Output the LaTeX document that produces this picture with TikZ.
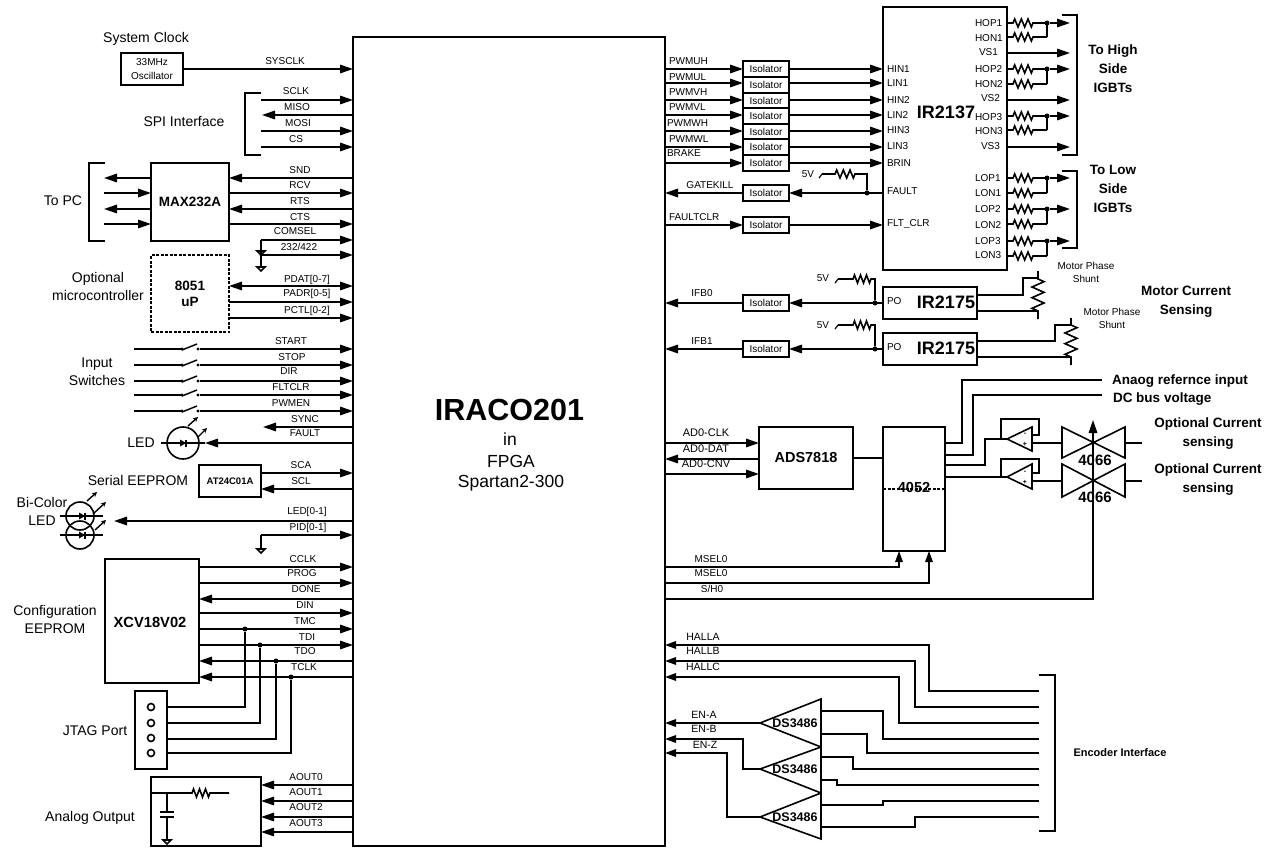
\documentclass[tikz,border=0pt]{standalone}
\usepackage{fontspec}
\setmainfont{Liberation Sans}
\usetikzlibrary{arrows.meta,calc}
\newcommand\fs[1]{\fontsize{#1}{#1}\selectfont}
\tikzset{
 x=1pt,y=-1pt,
 wire/.style={line width=1.6pt,line cap=butt,line join=miter},
 arr/.style={-{Triangle[length=13pt,width=8.5pt]}},
 arrs/.style={-{Triangle[length=11pt,width=7.5pt]}},
 barr/.style={{Triangle[length=13pt,width=8.5pt]}-{Triangle[length=13pt,width=8.5pt]}},
 blk/.style={draw,line width=1.6pt,inner sep=0pt,outer sep=0pt,align=center},
 lbl/.style={inner sep=0pt,outer sep=0pt,text height=7.2pt,text depth=0pt,font=\fs{10}},
 lbw/.style={lbl,anchor=west},
 txt/.style={inner sep=0pt,outer sep=0pt,align=center,font=\fs{14},text height=10pt,text depth=0pt},
 btxt/.style={inner sep=0pt,outer sep=0pt,align=center,font=\bfseries\fs{13.5},text height=9.7pt,text depth=0pt},
 dot/.style={fill=black,circle,inner sep=0pt,minimum size=5pt},
 sdot/.style={fill=black,circle,inner sep=0pt,minimum size=3.2pt},
 small/.style={-{Stealth[length=5pt,width=5pt]},line width=1.4pt},
}
% box by corners
\newcommand\bx[7][]{\node[blk,minimum width={(#5-#3)*1pt},minimum height={(#6-#4)*1pt},#1] (#2) at ({(#3+#5)/2},{(#4+#6)/2}) {#7};}
% horizontal wire at height #4 between x of #2 and x of #3
\newcommand\hw[4]{\draw[wire,#1] (#2 |- 0,#4) -- (#3 |- 0,#4);}
\newcommand\lab[3]{\node[lbl] (l-#1-#2) at (#1,#2) {#3};}
\newcommand\labw[3]{\node[lbw] (l-#1-#2) at (#1,#2) {#3};}
\newcommand\zigh[1]{-- ++({(#1)/12},-4) -- ++({(#1)/6},8) -- ++({(#1)/6},-8) -- ++({(#1)/6},8) -- ++({(#1)/6},-8) -- ++({(#1)/6},8) -- ++({(#1)/12},-4)}
\newcommand\zigv[2]{-- ++(#2,{(#1)/12}) -- ++(-2*#2,{(#1)/6}) -- ++(2*#2,{(#1)/6}) -- ++(-2*#2,{(#1)/6}) -- ++(2*#2,{(#1)/6}) -- ++(-2*#2,{(#1)/6}) -- ++(#2,{(#1)/12})}
% wire with resistor: start anchor, x1, width, end anchor, y
\newcommand\rw[5]{\draw[wire] (#1 |- 0,#5) -- (#2,#5) \zigh{#3} -- (#4 |- 0,#5);}
\newcommand\gnd[2]{\draw[wire] ({#1-4},#2) -- ({#1+4},#2) -- (#1,{#2+4}) -- cycle;}
% switch: y
\newcommand\swt[1]{%
 \hw{}{swL}{swA}{#1}
 \draw[line width=1.4pt] (swA |- 0,#1) ++(0,1) -- ++(15,-6);
 \node[sdot] (sa#1) at (swA |- 0,#1) {};
 \node[sdot] (sb#1) at (swB |- 0,#1) {};
 \draw[wire,arr] (sb#1) -- (fpga.west |- sb#1);}
\newcommand\diode[2]{\fill ({#1-3},{#2-3.5}) -- ({#1-3},{#2+3.5}) -- ({#1+3},#2) -- cycle; \draw[line width=1.2pt] ({#1+3},{#2-3.5}) -- ({#1+3},{#2+3.5});}
% gate driver pair
\newcommand\drv[2]{%
 \rw{ir.east}{1013}{20}{jh}{#1}
 \rw{ir.east}{1013}{20}{jh}{#2}
 \draw[wire] (jh |- 0,#2) -- (jh |- 0,#1);
 \node[dot] (d#1) at (jh |- 0,#1) {};
 \draw[wire,arr] (d#1) -- (igbt |- d#1);}
\newcommand\iso[3]{\bx{#1}{743}{#2}{789}{#3}{\fs{10}Isolator}}
\begin{document}
\begin{tikzpicture}
\useasboundingbox (0,0) rectangle (1277,848);
\fill[white] (0,0) rectangle (1277,848);
% FPGA
\bx{fpga}{353}{37}{665}{846}{}
\node[inner sep=0pt,font=\bfseries\fs{30.5}] (tname) at (509.5,410) {IRACO201};
\node[txt,font=\fs{17.5},text height=12.5pt] (t1) at (510,439) {in};
\node[txt,font=\fs{17.5},text height=12.5pt] (t2) at (511,461) {FPGA};
\node[txt,font=\fs{17.5},text height=12.5pt] (t3) at (511,481) {Spartan2-300};
% rails
\coordinate (spiL) at (261,0);
\coordinate (spiT) at (262,0);
\coordinate (pcL) at (104,0);
\coordinate (swL) at (134,0);
\coordinate (swA) at (182,0);
\coordinate (swB) at (198,0);
\coordinate (syncT) at (263,0);
\coordinate (ledT) at (205,0);
\coordinate (bicT) at (114,0);
% clock
\node[txt] (tclk) at (146,38) {System Clock};
\bx{osc}{121}{53}{183}{85}{\fs{10}33MHz\\[2pt]\fs{10}Oscillator}
\hw{arr}{osc.east}{fpga.west}{69}
\lab{285}{61}{SYSCLK}
% SPI
\node[txt] (tspi) at (184,122) {SPI Interface};
\draw[wire] (261,93) -- (245,93) -- (245,155) -- (261,155);
\hw{arr}{spiL}{fpga.west}{100}
\hw{arr}{fpga.west}{spiT}{115}
\hw{arr}{spiL}{fpga.west}{131}
\hw{arr}{spiL}{fpga.west}{147}
\lab{296}{91}{SCLK}\lab{297}{107}{MISO}\lab{298}{123}{MOSI}\lab{296}{139}{CS}
% MAX232
\node[txt] (tpc) at (63,200) {To PC};
\bx{max}{151}{163}{229}{241}{\bfseries\fs{13.5}MAX232A}
\draw[wire] (105,163) -- (89,163) -- (89,241) -- (105,241);
\hw{arr}{max.west}{pcL}{178}
\hw{arr}{pcL}{max.west}{193}
\hw{arr}{max.west}{pcL}{209}
\hw{arr}{pcL}{max.west}{224}
\hw{arr}{fpga.west}{max.east}{178}
\hw{arr}{max.east}{fpga.west}{193}
\hw{arr}{fpga.west}{max.east}{209}
\hw{arr}{max.east}{fpga.west}{224}
\lab{300}{170}{SND}\lab{300}{185}{RCV}\lab{300}{201}{RTS}\lab{300}{217}{CTS}
\hw{arr}{spiL}{fpga.west}{240}
\hw{arr}{spiL}{fpga.west}{255}
\draw[wire] (spiL |- 0,240) -- (spiL |- 0,267);
\node[sdot] (gd1) at (spiL |- 0,255) {};
\gnd{261}{251}\gnd{261}{267}
\lab{295}{231}{COMSEL}\lab{299}{247}{232/422}
% 8051
\node[txt] (topt) at (98,295) {Optional\\[4pt]microcontroller};
\bx[dash pattern=on 3pt off 1.5pt]{mcu}{151}{255}{229}{332}{\bfseries\fs{13.5}8051\\[4pt]\bfseries\fs{13.5}uP}
\hw{barr}{mcu.east}{fpga.west}{286}
\hw{arr}{mcu.east}{fpga.west}{302}
\hw{arr}{mcu.east}{fpga.west}{318}
\lab{307}{279}{PDAT[0-7]}\lab{307}{293}{PADR[0-5]}\lab{307}{310}{PCTL[0-2]}
% switches
\node[txt] (tsw) at (97,380) {Input\\[4pt]Switches};
\swt{349}\swt{365}\swt{381}\swt{395}\swt{411}
\lab{291}{341}{START}\lab{292}{357}{STOP}\lab{289}{371}{DIR}\lab{291}{387}{FLTCLR}\lab{291}{403}{PWMEN}
\hw{arr}{fpga.west}{syncT}{427}
\lab{305}{419}{SYNC}
% LED
\node[txt] (tled) at (141,442) {LED};
\node[draw,circle,line width=1.6pt,minimum size=32pt,inner sep=0pt,outer sep=0pt] (led) at (183,443) {};
\hw{arr}{fpga.west}{ledT}{443}
\draw[wire] (161,443) -- (ledT |- 0,443);
\diode{183}{443}
\draw[small] (188,426) -- (198,417);
\draw[small] (198,437) -- (207,428);
\lab{305}{433}{FAULT}
% AT24
\node[txt] (teep) at (138,480) {Serial EEPROM};
\bx{at}{199}{465}{261}{497}{\bfseries\fs{9.5}AT24C01A}
\hw{arr}{at.east}{fpga.west}{473}
\hw{arr}{fpga.west}{at.east}{489}
\lab{301}{465}{SCA}\lab{301}{481}{SCL}
% bicolor
\node[txt] (tbic) at (42,520) {Bi-Color\\[4pt]LED};
\node[draw,circle,line width=1.6pt,minimum size=28pt,inner sep=0pt,outer sep=0pt] (b1) at (80,516) {};
\node[draw,circle,line width=1.6pt,minimum size=28pt,inner sep=0pt,outer sep=0pt] (b2) at (80,535) {};
\draw[wire] (60,516) -- (103,516);
\draw[wire] (60,535) -- (103,535);
\diode{82}{516}\diode{82}{535}
\draw[small] (87,501) -- (97,492);
\draw[small] (93,514) -- (106,502);
\draw[small] (95,530) -- (106,520);
\hw{arr}{fpga.west}{bicT}{521}
\lab{307}{511}{LED[0-1]}
\hw{arr}{spiL}{fpga.west}{535}
\draw[wire] (spiL |- 0,535) -- (spiL |- 0,549);
\gnd{261}{549}
\lab{308}{527}{PID[0-1]}
% XCV
\node[txt] (tcfg) at (55,628) {Configuration\\[4pt]EEPROM};
\bx{xcv}{105}{559}{199}{683}{}
\node[inner sep=0pt,font=\bfseries\fs{14.7}] (txcv) at (150,622) {XCV18V02};
\hw{arr}{xcv.east}{fpga.west}{567}
\hw{arr}{xcv.east}{fpga.west}{583}
\hw{arr}{fpga.west}{xcv.east}{599}
\hw{arr}{xcv.east}{fpga.west}{613}
\hw{arr}{xcv.east}{fpga.west}{629}
\hw{arr}{xcv.east}{fpga.west}{645}
\hw{arr}{fpga.west}{xcv.east}{661}
\hw{arr}{fpga.west}{xcv.east}{677}
\lab{303}{559}{CCLK}\lab{302}{573}{PROG}\lab{306}{589}{DONE}\lab{305}{605}{DIN}\lab{305}{621}{TMC}\lab{307}{637}{TDI}\lab{305}{651}{TDO}\lab{304}{667}{TCLK}
% JTAG
\node[txt] (tjt) at (95,730) {JTAG Port};
\bx{jtag}{135}{691}{167}{769}{}
\foreach \yy in {707,723,738,753}{\node[draw,circle,line width=1.6pt,minimum size=7pt,inner sep=0pt] (p\yy) at (151,\yy) {};}
\node[dot] (j1) at (245,629) {};
\node[dot] (j2) at (260,645) {};
\node[dot] (j3) at (276,661) {};
\node[dot] (j4) at (291,677) {};
\draw[wire] (jtag.east |- 0,707) -| (j1);
\draw[wire] (jtag.east |- 0,723) -| (j2);
\draw[wire] (jtag.east |- 0,739) -| (j3);
\draw[wire] (jtag.east |- 0,753) -| (j4);
% analog
\node[txt] (tana) at (90,816) {Analog Output};
\bx{ana}{151}{777}{261}{846}{}
\hw{arr}{fpga.west}{ana.east}{785}
\hw{arr}{fpga.west}{ana.east}{801}
\hw{arr}{fpga.west}{ana.east}{817}
\hw{arr}{fpga.west}{ana.east}{832}
\lab{306}{777}{AOUT0}\lab{306}{792}{AOUT1}\lab{306}{807}{AOUT2}\lab{306}{823}{AOUT3}
\draw[wire] (ana.west |- 0,793) -- (192,793) \zigh{18} -- (229,793);
\draw[wire] (167,793) -- (167,812);
\draw[wire] (160,812) -- (174,812);
\draw[wire] (160,817) -- (174,817);
\draw[wire] (167,817) -- (167,840);
\gnd{167}{840}
% ---------- right side ----------
\bx{ir}{883}{7}{1007}{270}{}
\node[inner sep=0pt,font=\bfseries\fs{18}] (tir) at (946,112) {IR2137};
\iso{pa}{61}{77}\iso{pb}{77}{93}\iso{pc}{93}{108}\iso{pd}{108}{124}\iso{pe}{124}{139}\iso{pf}{139}{155}\iso{pg}{155}{171}
\hw{arr}{fpga.east}{pa.west}{69}\hw{arr}{pa.east}{ir.west}{69}
\hw{arr}{fpga.east}{pb.west}{83}\hw{arr}{pb.east}{ir.west}{83}
\hw{arr}{fpga.east}{pc.west}{100}\hw{arr}{pc.east}{ir.west}{100}
\hw{arr}{fpga.east}{pd.west}{115}\hw{arr}{pd.east}{ir.west}{115}
\hw{arr}{fpga.east}{pe.west}{131}\hw{arr}{pe.east}{ir.west}{131}
\hw{arr}{fpga.east}{pf.west}{147}\hw{arr}{pf.east}{ir.west}{147}
\hw{arr}{fpga.east}{pg.west}{163}\hw{arr}{pg.east}{ir.west}{163}
\labw{669}{61}{PWMUH}\labw{669}{77}{PWMUL}\labw{669}{92}{PWMVH}\labw{669}{107}{PWMVL}\labw{667}{123}{PWMWH}\labw{669}{139}{PWMWL}\labw{667}{153}{BRAKE}
\labw{887}{69}{HIN1}\labw{887}{83}{LIN1}\labw{887}{100}{HIN2}\labw{887}{115}{LIN2}\labw{887}{130}{HIN3}\labw{887}{146}{LIN3}\labw{887}{163}{BRIN}\labw{887}{191}{FAULT}\labw{887}{223}{FLT\_CLR}
% gatekill
\iso{gk}{185}{201}
\hw{arr}{ir.west}{gk.east}{193}
\hw{arr}{gk.west}{fpga.east}{193}
\lab{710}{185}{GATEKILL}
\node[lbl] (v5a) at (808,174) {5V};
\node[dot] (dgk) at (867,193) {};
\draw[line width=1.2pt] (819,178) -- (822,174);
\draw[wire] (822,174) -- (835,174) \zigh{20} -- (867,174) -- (dgk);
\iso{fc}{217}{233}
\hw{arr}{fpga.east}{fc.west}{225}
\hw{arr}{fc.east}{ir.west}{225}
\labw{669}{217}{FAULTCLR}
% IR2137 outputs
\coordinate (jh) at (1047,0);
\coordinate (igbt) at (1070,0);
\drv{23}{37}\drv{69}{84}\drv{116}{130}\drv{178}{193}\drv{209}{224}\drv{241}{256}
\hw{arr}{ir.east}{igbt}{53}
\hw{arr}{ir.east}{igbt}{100}
\hw{arr}{ir.east}{igbt}{147}
\draw[wire] (1062,15) -- (1077,15) -- (1077,155) -- (1062,155);
\draw[wire] (1062,171) -- (1077,171) -- (1077,248) -- (1062,248);
\labw{975}{23}{HOP1}\labw{975}{38}{HON1}\labw{979}{52}{VS1}\labw{975}{69}{HOP2}\labw{975}{84}{HON2}\labw{981}{98}{VS2}\labw{975}{117}{HOP3}\labw{975}{131}{HON3}\labw{981}{146}{VS3}
\labw{975}{178}{LOP1}\labw{975}{193}{LON1}\labw{975}{209}{LOP2}\labw{975}{225}{LON2}\labw{975}{241}{LOP3}\labw{975}{255}{LON3}
\node[btxt] (thi) at (1113,88) {To High\\[5.5pt]Side\\[5.5pt]IGBTs};
\node[btxt] (tlo) at (1113,208) {To Low\\[5.5pt]Side\\[5.5pt]IGBTs};
% IR2175
\bx{ira}{883}{287}{977}{319}{}
\bx{irb}{883}{333}{977}{365}{}
\node[inner sep=0pt,font=\bfseries\fs{18}] (tia) at (946,302) {IR2175};
\node[inner sep=0pt,font=\bfseries\fs{18}] (tib) at (946,348) {IR2175};
\labw{887}{301}{PO}\labw{887}{347}{PO}
\iso{ia}{295}{311}
\iso{ib}{341}{357}
\hw{arr}{ira.west}{ia.east}{303}
\hw{arr}{ia.west}{fpga.east}{303}
\hw{arr}{irb.west}{ib.east}{349}
\hw{arr}{ib.west}{fpga.east}{349}
\lab{702}{293}{IFB0}\lab{702}{341}{IFB1}
\node[lbl] (v5b) at (823,278) {5V};
\node[lbl] (v5c) at (823,325) {5V};
\node[dot] (dia) at (875,303) {};
\node[dot] (dib) at (875,349) {};
\draw[line width=1.2pt] (835,283) -- (838,279);
\draw[wire] (838,279) -- (853,279) \zigh{18} -- (875,279) -- (dia);
\draw[line width=1.2pt] (835,329) -- (838,325);
\draw[wire] (838,325) -- (853,325) \zigh{18} -- (875,325) -- (dib);
% shunts
\draw[wire] (ira.east |- 0,295) -- (1023,295) -- (1023,278) -- (1038,278);
\draw[wire] (1038,271) -- (1038,279) \zigv{32}{6} -- (1038,319);
\draw[wire] (ira.east |- 0,311) -- (1038,311);
\draw[wire] (irb.east |- 0,341) -- (1055,341) -- (1055,325) -- (1071,325);
\draw[wire] (1071,318) -- (1071,325) \zigv{32}{6} -- (1071,365);
\draw[wire] (irb.east |- 0,357) -- (1071,357);
\node[lbl,align=center] (ms1) at (1086,279) {Motor Phase\\[3pt]Shunt};
\node[lbl,align=center] (ms2) at (1112,325) {Motor Phase\\[3pt]Shunt};
\node[btxt] (tmc) at (1186,310) {Motor Current\\[5.5pt]Sensing};
% ADC
\bx{ads}{759}{427}{853}{489}{\bfseries\fs{14.5}ADS7818}
\bx{mux}{883}{427}{945}{551}{}
\node[inner sep=0pt,font=\bfseries\fs{14.5}] (tmux) at (914,488) {4052};
\draw[line width=1.6pt,dash pattern=on 3pt off 1.5pt] (mux.west |- 0,489) -- (mux.east |- 0,489);
\draw[wire] (mux.west |- 0,458) -- (ads.east |- 0,458);
\hw{arr}{fpga.east}{ads.west}{443}
\hw{arr}{ads.west}{fpga.east}{459}
\hw{arr}{fpga.east}{ads.west}{474}
\lab{706}{433}{\fs{11}AD0-CLK}\lab{706}{449}{\fs{11}AD0-DAT}\lab{706}{464}{\fs{11}AD0-CNV}
\coordinate (ma) at (899,551);
\coordinate (mb) at (929,551);
\draw[wire,arrs] (fpga.east |- 0,567) -| (ma);
\draw[wire,arrs] (fpga.east |- 0,583) -| (mb);
\lab{711}{559}{MSEL0}\lab{711}{573}{MSEL0}\lab{712}{589}{S/H0}
% analog refs
\draw[wire] (mux.east |- 0,443) -- (962,443) -- (962,380) -- (1102,380);
\draw[wire] (mux.east |- 0,455) -- (973,455) -- (973,395) -- (1102,395);
\node[btxt,anchor=west] (tref) at (1112,380) {Anaog refernce input};
\node[btxt,anchor=west] (tdc) at (1113,398) {DC bus voltage};
% op amps
\draw[wire] (1007,439) -- (1032,427) -- (1032,451) -- cycle;
\draw[wire] (1007,477) -- (1032,464) -- (1032,489) -- cycle;
\draw[wire] (mux.east |- 0,465) -- (985,465) -- (985,439) -- (1007,439);
\draw[wire] (mux.east |- 0,477) -- (1007,477);
\draw[wire] (1001,439) -- (1001,419) -- (1039,419) -- (1039,435) -- (1032,435);
\draw[wire] (1001,477) -- (1001,459) -- (1039,459) -- (1039,473) -- (1032,473);
\node[inner sep=0pt,font=\bfseries\fs{7}] (om1) at (1025,434) {-};
\node[inner sep=0pt,font=\bfseries\fs{7}] (op1) at (1025,444) {+};
\node[inner sep=0pt,font=\bfseries\fs{7}] (om2) at (1025,472) {-};
\node[inner sep=0pt,font=\bfseries\fs{7}] (op2) at (1025,482) {+};
\draw[wire] (1032,443) -- (1062,443);
\draw[wire] (1032,481) -- (1062,481);
% 4066
\draw[wire] (1062,427) -- (1125,458) -- (1125,427) -- (1062,458) -- cycle;
\draw[wire] (1062,464) -- (1125,497) -- (1125,464) -- (1062,497) -- cycle;
\draw[wire] (1125,443) -- (1142,443);
\draw[wire] (1125,481) -- (1142,481);
\coordinate (shtop) at (1093,420);
\draw[wire,arr] (fpga.east |- 0,599) -| (shtop);
\node[inner sep=0pt,font=\bfseries\fs{15}] (t4a) at (1095,460) {4066};
\node[inner sep=0pt,font=\bfseries\fs{15}] (t4b) at (1095,497) {4066};
\node[btxt] (to1) at (1208,442) {Optional Current\\[5.5pt]sensing};
\node[btxt] (to2) at (1208,488) {Optional Current\\[5.5pt]sensing};
% encoder
\coordinate (enc) at (1039,0);
\draw[wire] (1039,675) -- (1055,675) -- (1055,831) -- (1039,831);
\node[btxt,font=\bfseries\fs{11},text height=8pt] (tenc) at (1120,752) {Encoder Interface};
\draw[wire,arrs] (enc |- 0,691) -- (929,691) -- (929,645) -- (fpga.east |- 0,645);
\draw[wire,arrs] (enc |- 0,707) -- (915,707) -- (915,661) -- (fpga.east |- 0,661);
\draw[wire,arrs] (enc |- 0,723) -- (899,723) -- (899,677) -- (fpga.east |- 0,677);
\lab{703}{637}{\fs{10.5}HALLA}\lab{703}{651}{\fs{10.5}HALLB}\lab{703}{667}{\fs{10.5}HALLC}
% DS3486
\draw[wire] (821,699) -- (760,723) -- (821,747) -- cycle;
\draw[wire] (821,747) -- (760,769) -- (821,793) -- cycle;
\draw[wire] (821,793) -- (760,817) -- (821,839) -- cycle;
\coordinate (dsa) at (760,723);
\coordinate (dsb) at (760,769);
\coordinate (dsc) at (760,817);
\draw[wire,arrs] (dsa) -- (fpga.east |- dsa);
\draw[wire,arrs] (dsb) -- (743,769) -- (743,739) -- (fpga.east |- 0,739);
\draw[wire,arrs] (dsc) -- (727,817) -- (727,753) -- (fpga.east |- 0,753);
\lab{704}{715}{\fs{10.5}EN-A}\lab{704}{729}{\fs{10.5}EN-B}\lab{705}{745}{\fs{10.5}EN-Z}
\node[inner sep=0pt,font=\bfseries\fs{12.5}] (ds1) at (795,723) {DS3486};
\node[inner sep=0pt,font=\bfseries\fs{12.5}] (ds2) at (795,769) {DS3486};
\node[inner sep=0pt,font=\bfseries\fs{12.5}] (ds3) at (795,817) {DS3486};
\draw[wire] (821,711) -- (883,711) -- (883,739) -- (enc |- 0,739);
\draw[wire] (821,734) -- (867,734) -- (867,753) -- (enc |- 0,753);
\draw[wire] (821,757) -- (853,757) -- (853,769) -- (enc |- 0,769);
\draw[wire] (821,780) -- (837,780) -- (837,785) -- (enc |- 0,785);
\draw[wire] (821,805) -- (883,805) -- (883,801) -- (enc |- 0,801);
\draw[wire] (821,827) -- (915,827) -- (915,817) -- (enc |- 0,817);
\end{tikzpicture}
\end{document}
